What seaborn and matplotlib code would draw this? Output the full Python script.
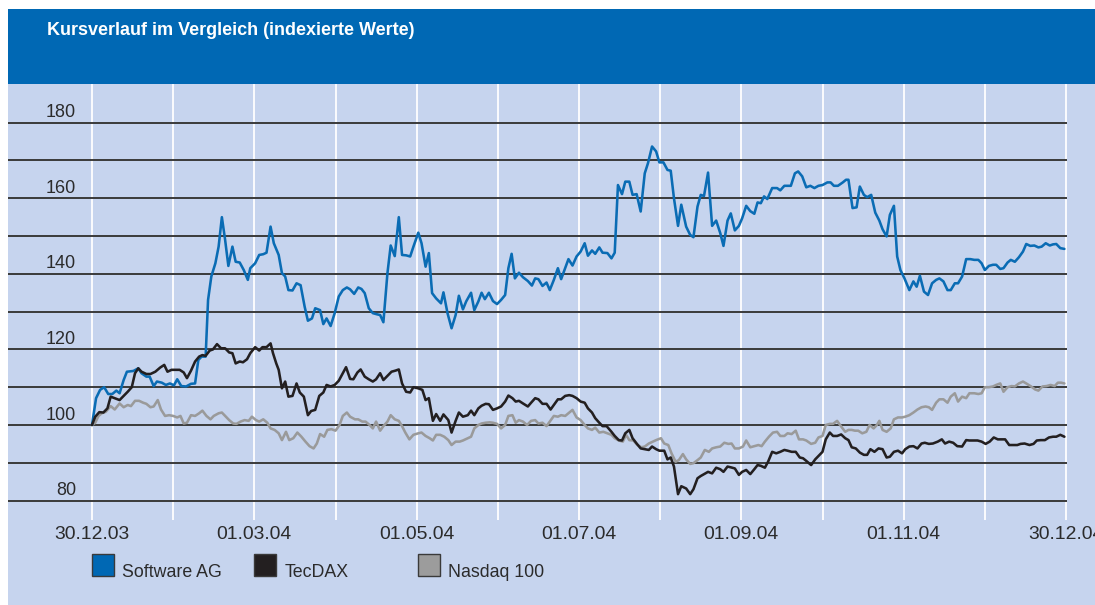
import matplotlib
matplotlib.use("Agg")
import matplotlib.pyplot as plt
import matplotlib.transforms as mtrans
from matplotlib.patches import Rectangle
from matplotlib import font_manager as fm
import numpy as np
import pandas as pd
import seaborn as sns

# ---------------- data ----------------
title = "Kursverlauf im Vergleich (indexierte Werte)"
month_ticks = [0, 2, 4, 6, 8, 10, 12]
month_labels = ["30.12.03", "01.03.04", "01.05.04", "01.07.04", "01.09.04", "01.11.04", "30.12.04"]
y_label_values = [80, 100, 120, 140, 160, 180]
y_line_values = [80, 90, 100, 110, 120, 130, 140, 150, 160, 170, 180]
series_names = ["Software AG", "TecDAX", "Nasdaq 100"]

sag_t = [0.00, 0.05, 0.10, 0.15, 0.20, 0.25, 0.30, 0.34, 0.39, 0.43, 0.51, 0.57, 0.61, 0.67, 0.71, 0.76, 0.80, 0.86, 0.91, 0.96,
         1.01, 1.05, 1.10, 1.16, 1.22, 1.27, 1.31, 1.35, 1.40, 1.43, 1.47, 1.52, 1.56, 1.60, 1.64, 1.68, 1.73, 1.77, 1.82, 1.87,
         1.92, 1.95, 2.01, 2.06, 2.11, 2.15, 2.20, 2.24, 2.30, 2.34, 2.38, 2.42, 2.47, 2.52, 2.57, 2.62, 2.66, 2.71, 2.75, 2.81,
         2.85, 2.89, 2.94, 2.99, 3.04, 3.09, 3.14, 3.18, 3.23, 3.28, 3.32, 3.36, 3.41, 3.46, 3.51, 3.55, 3.59, 3.64, 3.68, 3.73,
         3.78, 3.82, 3.87, 3.92, 3.96, 4.02, 4.06, 4.11, 4.15, 4.19, 4.24, 4.30, 4.33, 4.38, 4.43, 4.48, 4.52, 4.57, 4.61, 4.67,
         4.71, 4.76, 4.80, 4.84, 4.89, 4.94, 4.99, 5.04, 5.09, 5.13, 5.17, 5.21, 5.26, 5.31, 5.37, 5.42, 5.46, 5.50, 5.55, 5.60,
         5.64, 5.69, 5.74, 5.78, 5.83, 5.87, 5.92, 5.97, 6.02, 6.07, 6.11, 6.16, 6.20, 6.25, 6.29, 6.35, 6.40, 6.44, 6.48, 6.53,
         6.57, 6.62, 6.66, 6.71, 6.76, 6.81, 6.85, 6.90, 6.95, 6.99, 7.04, 7.09, 7.13, 7.17, 7.22, 7.26, 7.32, 7.37, 7.41, 7.46,
         7.50, 7.54, 7.59, 7.64, 7.69, 7.74, 7.78, 7.83, 7.87, 7.92, 7.97, 8.01, 8.06, 8.11, 8.16, 8.20, 8.24, 8.28, 8.32, 8.38,
         8.44, 8.48, 8.53, 8.61, 8.66, 8.70, 8.75, 8.80, 8.85, 8.90, 8.95, 9.00, 9.06, 9.10, 9.14, 9.19, 9.25, 9.29, 9.32, 9.37,
         9.42, 9.46, 9.51, 9.55, 9.60, 9.65, 9.70, 9.74, 9.79, 9.83, 9.88, 9.92, 9.96, 10.01, 10.07, 10.12, 10.16, 10.20, 10.25, 10.30,
         10.35, 10.40, 10.44, 10.49, 10.54, 10.58, 10.63, 10.67, 10.72, 10.77, 10.82, 10.87, 10.92, 10.96, 11.00, 11.05, 11.10, 11.14, 11.19, 11.23,
         11.28, 11.32, 11.37, 11.42, 11.47, 11.51, 11.56, 11.61, 11.66, 11.70, 11.75, 11.80, 11.84, 11.88, 11.93, 11.98]
sag_v = [100.0, 107.1, 109.3, 110.0, 108.2, 108.2, 109.1, 108.4, 111.9, 114.1, 114.3, 115.0, 113.7, 112.8, 112.8, 110.3, 111.5, 111.2, 110.6, 111.0,
         110.5, 112.1, 110.3, 110.2, 110.9, 111.0, 117.2, 118.1, 118.1, 133.1, 139.3, 142.8, 147.2, 155.0, 149.0, 142.1, 147.2, 143.2, 143.0, 141.0,
         138.4, 141.5, 142.8, 145.0, 145.2, 145.6, 152.5, 148.1, 145.0, 140.2, 139.3, 135.7, 135.6, 137.5, 137.0, 131.3, 127.6, 128.2, 130.9, 130.4,
         126.7, 128.2, 126.2, 129.6, 134.0, 135.7, 136.4, 135.9, 134.7, 136.4, 136.0, 134.9, 130.9, 129.6, 129.3, 129.1, 127.2, 140.2, 147.5, 144.7,
         155.0, 145.0, 144.9, 144.6, 147.2, 150.9, 148.1, 141.9, 145.5, 134.9, 133.5, 132.2, 135.1, 129.6, 125.6, 129.1, 134.2, 130.6, 132.7, 135.0,
         130.4, 132.7, 135.0, 133.3, 135.0, 132.8, 132.0, 133.1, 134.4, 141.5, 145.3, 138.8, 140.3, 139.1, 138.1, 136.9, 138.8, 138.6, 136.8, 137.7,
         135.7, 138.4, 141.5, 138.6, 141.5, 143.9, 142.2, 144.6, 145.9, 148.1, 144.8, 146.2, 145.3, 147.0, 145.6, 145.5, 144.1, 145.6, 163.5, 161.1,
         164.4, 164.4, 160.9, 161.1, 156.5, 166.6, 169.3, 173.7, 172.4, 169.5, 169.5, 167.5, 167.3, 160.0, 152.7, 158.3, 152.5, 150.3, 149.7, 157.8,
         160.9, 160.6, 166.8, 152.7, 154.1, 150.8, 147.4, 154.1, 156.0, 151.5, 152.7, 154.7, 158.0, 156.6, 155.9, 158.9, 158.7, 160.5, 159.8, 162.7,
         162.7, 162.1, 163.3, 163.3, 166.6, 167.1, 165.8, 162.9, 163.3, 162.7, 163.3, 163.5, 164.2, 164.2, 163.3, 163.3, 164.2, 164.9, 164.9, 157.4,
         157.6, 163.1, 160.9, 160.3, 160.9, 156.2, 154.1, 151.8, 149.9, 155.6, 158.0, 144.6, 141.0, 138.8, 135.7, 138.0, 136.6, 139.5, 135.3, 134.4,
         137.5, 138.4, 138.8, 138.0, 135.7, 135.7, 137.5, 137.5, 139.3, 143.9, 143.9, 143.7, 143.7, 142.8, 141.0, 142.1, 142.4, 142.4, 141.3, 141.5,
         143.0, 143.7, 143.2, 144.4, 145.9, 147.9, 147.4, 147.5, 147.0, 147.2, 148.1, 147.5, 147.8, 147.9, 146.8, 146.6]

tec_t = [0.00, 0.04, 0.09, 0.14, 0.19, 0.23, 0.28, 0.34, 0.39, 0.44, 0.49, 0.53, 0.57, 0.61, 0.67, 0.72, 0.78, 0.84, 0.89, 0.93,
         0.98, 1.04, 1.08, 1.13, 1.17, 1.22, 1.27, 1.32, 1.36, 1.40, 1.45, 1.49, 1.54, 1.59, 1.64, 1.69, 1.73, 1.77, 1.82, 1.86,
         1.91, 1.95, 2.01, 2.06, 2.10, 2.15, 2.20, 2.23, 2.27, 2.30, 2.34, 2.38, 2.42, 2.47, 2.52, 2.56, 2.61, 2.66, 2.70, 2.75,
         2.80, 2.85, 2.89, 2.94, 2.99, 3.04, 3.09, 3.13, 3.18, 3.22, 3.27, 3.31, 3.36, 3.41, 3.46, 3.50, 3.55, 3.59, 3.65, 3.69,
         3.74, 3.78, 3.82, 3.87, 3.92, 3.96, 4.02, 4.07, 4.11, 4.15, 4.20, 4.24, 4.29, 4.33, 4.39, 4.43, 4.48, 4.52, 4.57, 4.63,
         4.67, 4.71, 4.76, 4.80, 4.85, 4.89, 4.94, 4.99, 5.04, 5.09, 5.13, 5.18, 5.22, 5.26, 5.31, 5.37, 5.41, 5.46, 5.50, 5.55,
         5.60, 5.65, 5.70, 5.74, 5.78, 5.83, 5.88, 5.92, 5.97, 6.02, 6.07, 6.11, 6.16, 6.20, 6.25, 6.29, 6.34, 6.40, 6.44, 6.49,
         6.53, 6.57, 6.62, 6.66, 6.71, 6.76, 6.81, 6.86, 6.90, 6.95, 6.99, 7.05, 7.09, 7.13, 7.17, 7.22, 7.26, 7.32, 7.37, 7.41,
         7.46, 7.50, 7.54, 7.59, 7.64, 7.69, 7.74, 7.78, 7.83, 7.87, 7.92, 7.97, 8.01, 8.06, 8.11, 8.16, 8.20, 8.24, 8.29, 8.33,
         8.38, 8.43, 8.48, 8.53, 8.57, 8.62, 8.67, 8.72, 8.76, 8.80, 8.86, 8.91, 8.95, 9.00, 9.04, 9.09, 9.13, 9.18, 9.23, 9.28,
         9.32, 9.36, 9.41, 9.46, 9.51, 9.55, 9.59, 9.64, 9.69, 9.74, 9.79, 9.83, 9.88, 9.93, 9.98, 10.02, 10.07, 10.12, 10.17, 10.22,
         10.26, 10.31, 10.36, 10.42, 10.47, 10.51, 10.56, 10.61, 10.66, 10.72, 10.77, 10.81, 10.87, 10.91, 10.96, 11.01, 11.06, 11.11, 11.16, 11.21,
         11.25, 11.30, 11.35, 11.40, 11.44, 11.49, 11.55, 11.60, 11.64, 11.69, 11.74, 11.79, 11.84, 11.88, 11.93, 11.98]
tec_v = [100.0, 102.2, 103.4, 103.3, 104.4, 107.5, 107.1, 106.6, 107.7, 108.8, 110.0, 113.7, 115.0, 114.1, 113.5, 113.5, 114.1, 115.2, 115.9, 114.1,
         114.6, 114.6, 114.6, 113.9, 112.4, 114.4, 116.8, 118.1, 118.5, 118.3, 119.7, 120.0, 121.4, 120.3, 120.3, 119.2, 119.0, 116.3, 116.8, 116.6,
         117.4, 119.0, 120.6, 119.7, 120.6, 120.6, 121.6, 119.0, 116.3, 114.6, 109.7, 111.5, 107.5, 107.7, 111.0, 108.6, 107.5, 102.6, 103.7, 104.0,
         107.7, 108.6, 110.6, 110.2, 110.6, 111.7, 113.7, 115.3, 112.2, 112.1, 113.9, 114.7, 112.8, 112.1, 111.5, 112.1, 113.7, 111.9, 113.2, 114.1,
         114.4, 114.7, 111.0, 108.8, 108.6, 110.0, 109.7, 109.3, 106.6, 107.1, 101.1, 102.9, 101.1, 102.8, 101.3, 98.0, 101.1, 103.3, 102.2, 102.6,
         103.8, 102.6, 104.4, 105.1, 105.6, 105.5, 104.0, 104.4, 104.9, 106.2, 107.8, 107.1, 106.2, 106.4, 105.7, 104.9, 105.9, 107.1, 106.8, 105.6,
         105.6, 104.1, 105.6, 106.8, 106.8, 107.7, 107.9, 107.7, 107.1, 106.2, 105.9, 104.4, 103.3, 101.8, 100.6, 99.7, 99.7, 98.2, 97.1, 96.0,
         95.9, 97.8, 98.7, 96.5, 95.1, 93.8, 93.6, 93.4, 94.3, 93.6, 93.2, 93.2, 90.9, 91.4, 89.0, 81.7, 83.8, 83.2, 81.7, 83.0,
         85.9, 86.5, 87.0, 87.6, 87.2, 88.7, 88.3, 87.6, 89.0, 88.8, 88.5, 86.8, 87.6, 88.1, 87.0, 88.3, 89.4, 89.2, 88.7, 90.3,
         92.9, 92.5, 92.9, 93.4, 93.2, 92.9, 92.9, 91.4, 91.2, 90.5, 89.4, 90.9, 91.8, 92.9, 96.2, 98.0, 97.1, 97.1, 97.5, 96.5,
         96.0, 94.1, 93.8, 92.7, 92.1, 92.1, 93.6, 92.9, 93.8, 93.6, 91.4, 91.6, 92.9, 93.2, 92.5, 93.6, 94.3, 94.4, 93.8, 95.1,
         95.3, 95.0, 95.1, 95.6, 96.2, 95.1, 95.6, 95.3, 94.4, 94.3, 96.0, 95.9, 95.9, 95.9, 95.6, 95.0, 95.6, 96.7, 96.2, 96.2,
         96.2, 94.7, 94.7, 94.7, 95.0, 95.1, 94.7, 95.0, 95.9, 96.0, 96.0, 96.7, 96.9, 96.9, 97.4, 96.9]

ndx_t = [0.00, 0.04, 0.08, 0.12, 0.17, 0.23, 0.28, 0.34, 0.39, 0.44, 0.48, 0.53, 0.58, 0.63, 0.67, 0.72, 0.76, 0.81, 0.85, 0.90,
         0.95, 1.00, 1.05, 1.09, 1.13, 1.17, 1.22, 1.27, 1.32, 1.36, 1.41, 1.46, 1.50, 1.56, 1.60, 1.65, 1.69, 1.74, 1.78, 1.83,
         1.88, 1.93, 1.97, 2.02, 2.06, 2.11, 2.16, 2.20, 2.25, 2.30, 2.34, 2.39, 2.43, 2.48, 2.53, 2.58, 2.63, 2.68, 2.73, 2.77,
         2.81, 2.86, 2.90, 2.95, 3.00, 3.05, 3.09, 3.14, 3.18, 3.24, 3.28, 3.33, 3.37, 3.42, 3.46, 3.50, 3.55, 3.59, 3.64, 3.68,
         3.73, 3.78, 3.82, 3.86, 3.91, 3.96, 4.02, 4.06, 4.11, 4.16, 4.20, 4.24, 4.29, 4.34, 4.39, 4.43, 4.48, 4.53, 4.57, 4.63,
         4.67, 4.71, 4.76, 4.80, 4.85, 4.90, 4.94, 4.99, 5.04, 5.09, 5.13, 5.18, 5.22, 5.26, 5.31, 5.36, 5.41, 5.46, 5.50, 5.55,
         5.60, 5.64, 5.69, 5.74, 5.78, 5.83, 5.87, 5.92, 5.97, 6.02, 6.07, 6.11, 6.16, 6.20, 6.25, 6.30, 6.35, 6.40, 6.44, 6.49,
         6.54, 6.58, 6.62, 6.67, 6.72, 6.77, 6.81, 6.86, 6.91, 6.95, 7.01, 7.05, 7.10, 7.14, 7.19, 7.23, 7.28, 7.32, 7.37, 7.41,
         7.46, 7.50, 7.55, 7.60, 7.64, 7.69, 7.74, 7.79, 7.84, 7.88, 7.92, 7.97, 8.02, 8.06, 8.11, 8.16, 8.21, 8.25, 8.29, 8.34,
         8.39, 8.44, 8.48, 8.53, 8.57, 8.62, 8.67, 8.71, 8.76, 8.80, 8.86, 8.91, 8.95, 9.00, 9.04, 9.09, 9.13, 9.18, 9.23, 9.28,
         9.32, 9.36, 9.40, 9.44, 9.49, 9.54, 9.58, 9.63, 9.67, 9.70, 9.74, 9.79, 9.84, 9.88, 9.93, 9.98, 10.02, 10.07, 10.12, 10.17,
         10.22, 10.27, 10.31, 10.35, 10.40, 10.44, 10.49, 10.54, 10.58, 10.63, 10.67, 10.72, 10.77, 10.81, 10.87, 10.92, 10.96, 11.00, 11.05, 11.10,
         11.14, 11.19, 11.23, 11.28, 11.33, 11.37, 11.42, 11.47, 11.51, 11.57, 11.62, 11.66, 11.71, 11.76, 11.81, 11.86, 11.90, 11.94, 11.98]
ndx_v = [100.0, 100.6, 102.4, 103.1, 103.5, 105.0, 104.1, 105.7, 104.7, 105.3, 105.0, 106.4, 106.4, 105.9, 105.6, 104.7, 104.9, 106.6, 104.1, 102.4,
         102.6, 102.4, 102.0, 102.4, 100.4, 100.6, 102.6, 102.4, 103.1, 103.8, 102.4, 101.5, 102.4, 103.1, 103.3, 102.2, 101.3, 100.4, 100.3, 100.9,
         101.3, 101.1, 102.2, 101.3, 100.9, 101.5, 100.6, 99.1, 98.7, 97.8, 96.0, 98.2, 96.0, 96.5, 98.0, 96.9, 95.6, 94.4, 93.8, 95.1,
         97.6, 96.9, 98.7, 98.9, 98.5, 100.0, 102.4, 103.3, 102.2, 101.5, 101.5, 100.9, 100.9, 100.0, 99.1, 100.9, 98.5, 99.7, 100.9, 102.6,
         101.5, 101.1, 99.7, 98.0, 96.2, 97.4, 97.8, 98.0, 97.1, 96.5, 95.9, 97.4, 97.4, 96.9, 96.0, 94.7, 95.6, 95.6, 95.9, 96.5,
         96.9, 99.1, 100.0, 100.4, 100.6, 100.7, 100.6, 100.3, 99.1, 100.0, 102.4, 102.6, 100.6, 101.3, 100.9, 100.0, 101.1, 101.3, 100.4, 100.6,
         99.7, 100.9, 102.4, 102.2, 102.6, 102.4, 103.1, 104.0, 102.0, 101.3, 100.0, 99.1, 98.7, 99.3, 98.0, 98.2, 97.8, 97.4, 96.5, 95.9,
         95.6, 97.4, 96.0, 95.9, 94.7, 94.1, 94.3, 95.1, 95.6, 96.0, 96.5, 95.1, 94.7, 92.5, 90.3, 90.7, 92.3, 90.9, 89.7, 89.9,
         90.7, 91.4, 93.4, 92.9, 93.8, 94.1, 94.3, 95.3, 95.0, 95.1, 93.8, 93.8, 94.3, 95.9, 94.1, 94.4, 94.7, 94.4, 95.6, 96.9,
         98.0, 98.2, 97.1, 97.1, 97.8, 97.6, 98.5, 96.2, 96.2, 95.9, 95.0, 95.3, 96.7, 97.1, 100.0, 100.3, 100.3, 101.1, 99.6, 98.2,
         98.7, 98.7, 98.5, 98.5, 97.8, 98.2, 100.0, 99.1, 100.0, 101.1, 98.7, 98.2, 99.1, 101.5, 102.0, 102.0, 102.2, 102.6, 103.3, 104.1,
         104.7, 104.9, 104.7, 104.0, 105.9, 106.8, 106.8, 105.9, 107.5, 108.4, 106.2, 107.5, 107.1, 108.4, 108.4, 108.2, 108.4, 110.0, 110.0, 110.2,
         110.6, 111.0, 108.8, 110.0, 110.3, 110.2, 111.0, 111.5, 111.0, 110.2, 109.4, 109.1, 110.2, 110.3, 110.6, 110.3, 111.2, 111.2, 111.0]

# ---------------- style ----------------
sns.set_theme(style="white")
available = {f.name for f in fm.fontManager.ttflist}
FONT = "Liberation Sans Narrow" if "Liberation Sans Narrow" in available else "Liberation Sans"
plt.rcParams["font.family"] = [FONT, "DejaVu Sans"]

BANNER = "#0068b4"
PANEL = "#c6d4ee"
GRIDLINE = "#3a3a3a"
TEXT = "#2b2b2b"
palette = {"Software AG": "#0a6cb4", "TecDAX": "#231f20", "Nasdaq 100": "#9a9a9a"}
legend_fill = {"Software AG": "#0068b4", "TecDAX": "#231f20", "Nasdaq 100": "#9c9c9c"}

W, H = 1095, 605
fig = plt.figure(figsize=(W / 100, H / 100), dpi=100, facecolor="white")

def fx(px):
    return px / W

def fy(py):
    return 1 - py / H

# banner and panel backgrounds (behind the axes)
fig.patches.append(Rectangle((fx(8), fy(84.3)), fx(W - 8), (84.3 - 9) / H,
                             transform=fig.transFigure, facecolor=BANNER, edgecolor="none", zorder=-5))
fig.patches.append(Rectangle((fx(8), 0), fx(W - 8), 1 - 84.3 / H,
                             transform=fig.transFigure, facecolor=PANEL, edgecolor="none", zorder=-5))

# axes: month 0 at x=92px, month 12 at x=1066px ; value 100 at y=425px, 37.79px per 10
ax_l, ax_r, ax_t, ax_b = 8, 1067, 84.3, 519.5
ax = fig.add_axes([fx(ax_l), fy(ax_b), fx(ax_r - ax_l), (ax_b - ax_t) / H])
ax.set_zorder(1)
ax.patch.set_visible(False)
px_per_month = (1066 - 92) / 12
px_per_unit = (425 - 122.7) / 80
xlim = ((ax_l - 92) / px_per_month, (ax_r - 92) / px_per_month)
ylim = (100 - (ax_b - 425) / px_per_unit, 100 + (425 - ax_t) / px_per_unit)

for m in range(13):
    ax.axvline(m, color="white", lw=1.3, zorder=1)
for v in y_line_values:
    ax.axhline(v, color=GRIDLINE, lw=1.4, zorder=2)

frames = []
for name, t, v in [("Software AG", sag_t, sag_v), ("TecDAX", tec_t, tec_v), ("Nasdaq 100", ndx_t, ndx_v)]:
    frames.append(pd.DataFrame({"Monat": t, "Index": v, "Wert": name}))
df = pd.concat(frames, ignore_index=True)

sns.lineplot(data=df, x="Monat", y="Index", hue="Wert", hue_order=["Nasdaq 100", "Software AG", "TecDAX"],
             palette=palette, estimator=None, sort=False, lw=1.85, legend=False, ax=ax, zorder=3)
ax.set_xlim(*xlim)
ax.set_ylim(*ylim)
ax.set_xlabel("")
ax.set_ylabel("")
ax.set_xticks([])
ax.set_yticks([])
for s in ax.spines.values():
    s.set_visible(False)

renderer = fig.canvas.get_renderer()
SCALE = 1.06  # the original face is condensed; trade a little width for height

def fit(txt, target_w):
    for _ in range(2):
        w = txt.get_window_extent(renderer=renderer).width
        txt.set_fontsize(txt.get_fontsize() * target_w / w)
    txt.set_fontsize(txt.get_fontsize() * SCALE)

# title
tt = fig.text(fx(47), fy(35), title, color="white", fontweight="bold", fontsize=13,
              ha="left", va="baseline")
fit(tt, 348)

# y labels (right aligned at x=76px, baseline ~5.5px above the line)
ylab_x = (76 - 92) / px_per_month
ylabs = []
for v in y_label_values:
    ylabs.append(ax.text(ylab_x, v + 5.5 / px_per_unit, str(v), ha="right", va="baseline",
                         color=TEXT, fontsize=12))
fit(ylabs[-1], 28.3)
for t_ in ylabs:
    t_.set_fontsize(ylabs[-1].get_fontsize())

# x labels
blend = mtrans.blended_transform_factory(ax.transData, fig.transFigure)
xlabs = []
for m, lab in zip(month_ticks, month_labels):
    xlabs.append(ax.text(m, fy(539), lab, transform=blend, ha="center", va="baseline",
                         color=TEXT, fontsize=12, clip_on=False))
fit(xlabs[0], 71)
for t_ in xlabs:
    t_.set_fontsize(xlabs[0].get_fontsize())

# legend
leg_x = [92.3, 254.3, 418]
legs = []
for name, x0 in zip(series_names, leg_x):
    fig.patches.append(Rectangle((fx(x0), fy(576)), 21.5 / W, 22 / H, transform=fig.transFigure,
                                 facecolor=legend_fill[name], edgecolor="#3a3a3a", lw=1.0, zorder=3))
    legs.append(fig.text(fx(x0 + 30), fy(576.7), name, ha="left", va="baseline", color=TEXT, fontsize=12))
fit(legs[0], 94.4)
for t_ in legs:
    t_.set_fontsize(legs[0].get_fontsize())

fig.savefig("out.png", dpi=100, facecolor="white")
